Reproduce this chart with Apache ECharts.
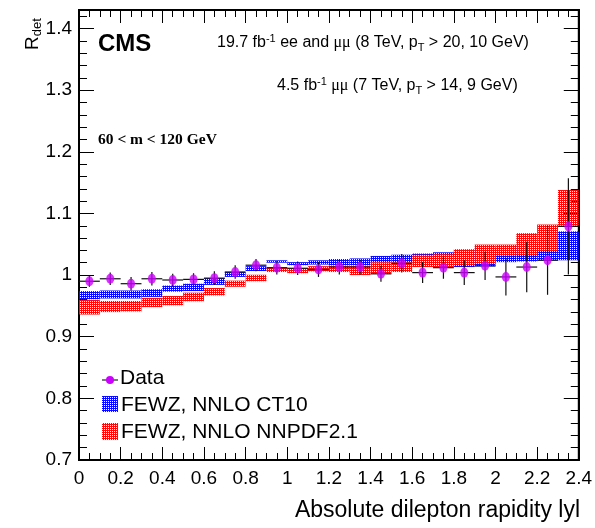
<!DOCTYPE html>
<html>
<head>
<meta charset="utf-8">
<script src="https://cdn.jsdelivr.net/npm/echarts@6/dist/echarts.min.js"></script>
<style>
  html, body { margin: 0; padding: 0; background: #fff; }
  #chart { width: 595px; height: 528px; }
</style>
</head>
<body>
<div id="chart"></div>
<script>
// Rapidity bins |y|
const binLow  = [0.0, 0.1, 0.2, 0.3, 0.4, 0.5, 0.6, 0.7, 0.8, 0.9, 1.0, 1.1,
                 1.2, 1.3, 1.4, 1.5, 1.6, 1.7, 1.8, 1.9, 2.0, 2.1, 2.2, 2.3];
const binHigh = [0.1, 0.2, 0.3, 0.4, 0.5, 0.6, 0.7, 0.8, 0.9, 1.0, 1.1, 1.2,
                 1.3, 1.4, 1.5, 1.6, 1.7, 1.8, 1.9, 2.0, 2.1, 2.2, 2.3, 2.4];

// Measured double ratio R_det and its uncertainty
const dataR   = [0.990, 0.994, 0.986, 0.994, 0.992, 0.993, 0.995, 1.005,
                 1.016, 1.012, 1.011, 1.009, 1.013, 1.013, 1.002, 1.019,
                 1.004, 1.012, 1.004, 1.015, 0.997, 1.013, 1.024, 1.079];
const dataErr = [0.009, 0.010, 0.011, 0.011, 0.010, 0.010, 0.011, 0.011,
                 0.010, 0.011, 0.011, 0.012, 0.012, 0.012, 0.013, 0.015,
                 0.017, 0.018, 0.020, 0.023, 0.030, 0.041, 0.056, 0.078];

// FEWZ NNLO predictions, band edges per bin
const ct10Low   = [0.961, 0.962, 0.962, 0.9645, 0.973, 0.974, 0.984, 0.997,
                   1.0065, 1.020, 1.016, 1.017, 1.016, 1.016, 1.021, 1.021,
                   1.028, 1.030, 1.013, 1.014, 1.021, 1.022, 1.024, 1.024];
const ct10High  = [0.974, 0.975, 0.975, 0.977, 0.983, 0.986, 0.995, 1.005,
                   1.0145, 1.024, 1.021, 1.024, 1.026, 1.027, 1.031, 1.033,
                   1.035, 1.037, 1.040, 1.043, 1.045, 1.048, 1.052, 1.071];
const nnpdfLow  = [0.936, 0.940, 0.941, 0.948, 0.951, 0.9575, 0.967, 0.981,
                   0.990, 1.005, 1.003, 1.006, 1.005, 1.000, 1.002, 1.005,
                   1.013, 1.013, 1.0156, 1.018, 1.031, 1.032, 1.039, 1.080];
const nnpdfHigh = [0.960, 0.958, 0.958, 0.963, 0.966, 0.9715, 0.979, 0.991,
                   1.0005, 1.012, 1.011, 1.0145, 1.0156, 1.0156, 1.021, 1.021,
                   1.033, 1.034, 1.042, 1.0495, 1.0495, 1.068, 1.082, 1.138];

// Axis ticks and labels
const xTickLabels = ['0', '0.2', '0.4', '0.6', '0.8', '1', '1.2', '1.4', '1.6', '1.8', '2', '2.2', '2.4'];
const yTickValues = [0.7, 0.8, 0.9, 1.0, 1.1, 1.2, 1.3, 1.4];
const yTickLabels = ['0.7', '0.8', '0.9', '1', '1.1', '1.2', '1.3', '1.4'];
const yMinorTicks = [];
for (let k = 36; k <= 71; k++) {
  if (k % 5 !== 0) yMinorTicks.push(k / 50);
}

const FONT = '"Liberation Sans", Arial, Helvetica, sans-serif';
const SERIF = '"Liberation Serif", "Times New Roman", serif';

// Fine dotted fill like a ROOT hatch style
function dotPattern(color) {
  const c = document.createElement('canvas');
  c.width = 2; c.height = 2;
  const g = c.getContext('2d');
  g.fillStyle = color;
  g.fillRect(0, 0, 1, 1);
  g.fillRect(1, 0, 1, 1);
  g.fillRect(1, 1, 1, 1);
  return { image: c, repeat: 'repeat' };
}
const bluePattern = dotPattern('#0a0aff');
const redPattern = dotPattern('#ff0a0a');

const bandRows = (lo, hi) => binLow.map((x, i) => [x, binHigh[i], lo[i], hi[i]]);
const dataRows = binLow.map((x, i) => [x, binHigh[i], dataR[i], dataErr[i]]);
const markerRows = binLow.map((x, i) => [(x + binHigh[i]) / 2, dataR[i]]);

function bandItem(fill) {
  return function (params, api) {
    const a = api.coord([api.value(0), api.value(3)]);
    const b = api.coord([api.value(1), api.value(2)]);
    return {
      type: 'rect',
      shape: { x: a[0], y: a[1], width: b[0] - a[0], height: b[1] - a[1] },
      style: { fill: fill }
    };
  };
}

function errorItem(params, api) {
  const y = api.value(2), e = api.value(3);
  const xc = (api.value(0) + api.value(1)) / 2;
  const l = api.coord([api.value(0), y]);
  const r = api.coord([api.value(1), y]);
  const top = api.coord([xc, y + e]);
  const bot = api.coord([xc, y - e]);
  return {
    type: 'group',
    children: [
      { type: 'line', shape: { x1: l[0], y1: l[1], x2: r[0], y2: r[1] },
        style: { stroke: '#111', lineWidth: 1.2 } },
      { type: 'line', shape: { x1: top[0], y1: top[1], x2: bot[0], y2: bot[1] },
        style: { stroke: '#111', lineWidth: 1.2 } }
    ]
  };
}

const axisBase = {
  axisLine: { show: true, onZero: false, lineStyle: { color: '#000', width: 2 } },
  splitLine: { show: false }
};

function xAxisDef(position, showLabel) {
  return Object.assign({}, axisBase, {
    type: 'value', position: position, min: 0, max: 2.4, interval: 0.2,
    axisTick: { show: true, inside: true, length: 13, lineStyle: { color: '#000', width: 1 } },
    minorTick: { show: true, splitNumber: 4, length: 7, lineStyle: { color: '#000', width: 1 } },
    axisLabel: {
      show: showLabel, color: '#000', fontSize: 19, fontFamily: FONT, margin: 9,
      formatter: v => xTickLabels[Math.round(v / 0.2)]
    }
  });
}

function yAxisDef(position, major, showLabel) {
  return Object.assign({}, axisBase, {
    type: 'value', position: position, min: 0.7, max: 1.43,
    axisLine: { show: major, onZero: false, lineStyle: { color: '#000', width: 2 } },
    axisTick: {
      show: true, inside: true, length: major ? 15 : 8,
      customValues: major ? yTickValues : yMinorTicks,
      lineStyle: { color: '#000', width: 1 }
    },
    axisLabel: {
      show: showLabel, color: '#000', fontSize: 19, fontFamily: FONT, margin: 7,
      customValues: yTickValues,
      formatter: v => {
        const i = yTickValues.findIndex(t => Math.abs(t - v) < 1e-6);
        return i >= 0 ? yTickLabels[i] : '';
      }
    }
  });
}

const chart = echarts.init(document.getElementById('chart'), null, { renderer: 'canvas' });

chart.setOption({
  animation: false,
  backgroundColor: '#fff',
  grid: { left: 79, right: 15, top: 10, bottom: 68, show: true,
          borderColor: '#000', borderWidth: 2 },
  xAxis: [xAxisDef('bottom', true), xAxisDef('top', false)],
  yAxis: [
    yAxisDef('left', true, true),
    yAxisDef('left', false, false),
    yAxisDef('right', true, false),
    yAxisDef('right', false, false)
  ],
  series: [
    { name: 'FEWZ, NNLO CT10', type: 'custom', xAxisIndex: 0, yAxisIndex: 0,
      renderItem: bandItem(bluePattern), data: bandRows(ct10Low, ct10High),
      clip: true, z: 2 },
    { name: 'FEWZ, NNLO NNPDF2.1', type: 'custom', xAxisIndex: 0, yAxisIndex: 0,
      renderItem: bandItem(redPattern), data: bandRows(nnpdfLow, nnpdfHigh),
      clip: true, z: 3 },
    { name: 'Data errors', type: 'custom', xAxisIndex: 0, yAxisIndex: 0,
      renderItem: errorItem, data: dataRows, clip: true, z: 4 },
    { name: 'Data', type: 'scatter', xAxisIndex: 0, yAxisIndex: 0,
      data: markerRows, symbol: 'circle', symbolSize: [8, 10],
      itemStyle: { color: '#cc00ff' }, z: 5 }
  ],
  graphic: [
    // CMS label and run conditions
    { type: 'text', x: 98, y: 44, style: {
        text: 'CMS', font: 'bold 24px ' + FONT, fill: '#000', verticalAlign: 'middle' } },
    { type: 'text', x: 217, y: 43, style: {
        text: '{n|19.7 fb}{sup|-1}{n| ee and }{g|μμ}{n| (8 TeV, p}{sub|T}{n| > 20, 10 GeV)}',
        verticalAlign: 'middle',
        rich: {
          n: { fontFamily: FONT, fontSize: 16, fill: '#000', lineHeight: 20 },
          g: { fontFamily: SERIF, fontSize: 16, fill: '#000', lineHeight: 20 },
          sup: { fontFamily: FONT, fontSize: 11, fill: '#000', lineHeight: 9, verticalAlign: 'top' },
          sub: { fontFamily: FONT, fontSize: 11, fill: '#000', lineHeight: 8, verticalAlign: 'bottom' }
        } } },
    { type: 'text', x: 277, y: 86, style: {
        text: '{n|4.5 fb}{sup|-1}{n| }{g|μμ}{n| (7 TeV, p}{sub|T}{n| > 14, 9 GeV)}',
        verticalAlign: 'middle',
        rich: {
          n: { fontFamily: FONT, fontSize: 16, fill: '#000', lineHeight: 20 },
          g: { fontFamily: SERIF, fontSize: 16, fill: '#000', lineHeight: 20 },
          sup: { fontFamily: FONT, fontSize: 11, fill: '#000', lineHeight: 9, verticalAlign: 'top' },
          sub: { fontFamily: FONT, fontSize: 11, fill: '#000', lineHeight: 8, verticalAlign: 'bottom' }
        } } },
    { type: 'text', x: 98, y: 140, style: {
        text: '60 < m < 120 GeV', font: 'bold 15.5px ' + SERIF, fill: '#000', verticalAlign: 'middle' } },

    // Axis titles
    { type: 'text', x: 580, y: 511, style: {
        text: 'Absolute dilepton rapidity lyl', font: '23px ' + FONT, fill: '#000',
        align: 'right', verticalAlign: 'middle' } },
    { type: 'text', x: 33, y: 50, rotation: Math.PI / 2, style: {
        text: '{r|R}{s|det}', align: 'left', verticalAlign: 'middle',
        rich: {
          r: { fontFamily: FONT, fontSize: 19, fill: '#000', lineHeight: 22 },
          s: { fontFamily: FONT, fontSize: 13, fill: '#000', lineHeight: 10, verticalAlign: 'bottom' }
        } } },

    // Legend
    { type: 'line', shape: { x1: 102, y1: 380, x2: 118, y2: 380 }, style: { stroke: '#222', lineWidth: 1.2 } },
    { type: 'circle', shape: { cx: 110, cy: 380, r: 4 }, style: { fill: '#cc00ff' } },
    { type: 'text', x: 120, y: 378, style: {
        text: 'Data', font: '21px ' + FONT, fill: '#000', verticalAlign: 'middle' } },
    { type: 'rect', shape: { x: 102, y: 396, width: 16, height: 16 }, style: { fill: bluePattern } },
    { type: 'text', x: 121, y: 405, style: {
        text: 'FEWZ, NNLO CT10', font: '21px ' + FONT, fill: '#000', verticalAlign: 'middle' } },
    { type: 'rect', shape: { x: 102, y: 423, width: 16, height: 17 }, style: { fill: redPattern } },
    { type: 'text', x: 121, y: 432, style: {
        text: 'FEWZ, NNLO NNPDF2.1', font: '21px ' + FONT, fill: '#000', verticalAlign: 'middle' } }
  ]
});
</script>
</body>
</html>
